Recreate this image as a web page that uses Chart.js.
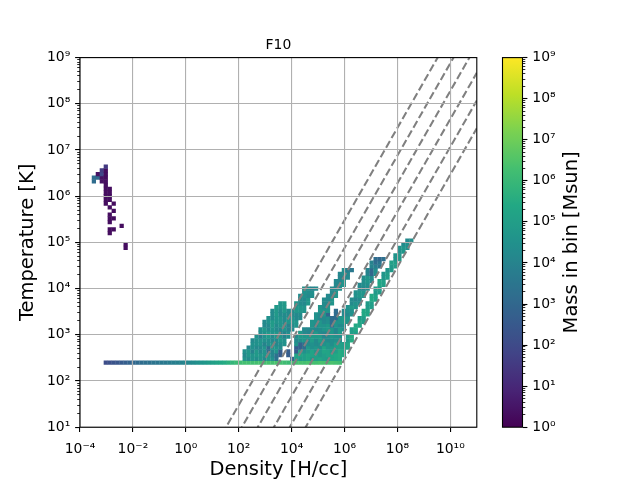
<!DOCTYPE html>
<html><head><meta charset="utf-8">
<script src="https://cdn.jsdelivr.net/npm/chart.js@4.4.1/dist/chart.umd.min.js"></script>
<style>
html,body{margin:0;padding:0;background:#fff;}
#wrap{position:relative;width:640px;height:480px;overflow:hidden;}
canvas{position:absolute;left:0;top:0;}
</style></head><body>
<div id="wrap">
<canvas id="main" width="640" height="480"></canvas>
<canvas id="cbar" width="640" height="480"></canvas>
<canvas id="cblabel" width="640" height="480"></canvas>
</div>
<script>
// ---------------- data (2D histogram, log10 mass per bin) ----------------
const LOGN_MIN = -4, LOGN_STEP = 0.15;   // density bins: log10(n) = -4 .. 11
const LOGT_MIN = 1,  LOGT_STEP = 0.08;   // temperature bins: log10(T) = 1 .. 9
const FLOOR_ROW = 17, FLOOR_START = 6;   // temperature-floor row and its first density bin

// log10(mass) along the temperature floor, density bins 6..65
const floorMass = [2.1,2.2,2.3,2.4,2.55,2.7,2.85,3.0,3.1,3.2,3.3,3.35,3.45,3.5,3.6,3.65,3.75,3.8,3.9,3.95,
  4.05,4.15,4.3,4.45,4.6,4.75,4.9,5.05,5.2,5.35,5.5,5.7,5.9,6.1,
  6.2,6.3,6.3,6.25,6.3,6.35,6.3,6.35,6.3,6.4,6.3,6.2,6.1,6.2,6.3,6.35,6.3,6.4,6.35,6.3,6.4,6.35,6.3,6.4,6.3,6.2];

// [density bin, first T bin, last T bin, log10(mass)] : hot diffuse gas
const hotCells = [
  [3,66,67,3.2],
  [4,67,67,3.0],[4,68,68,0.4],
  [5,66,67,0.4],[5,68,68,1.9],[5,69,69,1.6],
  [6,60,69,0.3],[6,70,70,1.5],
  [7,52,53,0.3],[7,55,57,0.3],[7,59,59,0.3],[7,61,64,0.3],
  [8,53,53,0.3],[8,56,56,0.3],[8,58,58,0.3],[8,60,60,0.3],
  [10,54,54,0.3],
  [11,48,49,0.3]
];

// [density bin, first T bin, last T bin, log10(mass)] : dense cold gas
const coldCells = [
  [41,18,18,4.6],[41,19,19,4.2],[41,20,20,4.5],
  [42,18,18,4.3],[42,19,20,4.7],[42,21,21,4.1],
  [43,18,19,4.6],[43,20,20,4.0],[43,21,22,4.5],[43,23,23,4.2],
  [44,18,18,4.4],[44,19,20,4.8],[44,21,21,4.2],[44,22,24,4.5],
  [45,18,19,4.7],[45,20,21,4.2],[45,22,23,4.6],[45,24,24,3.9],[45,25,26,4.4],
  [46,18,18,4.2],[46,19,21,4.6],[46,22,22,4.0],[46,23,25,4.5],[46,26,26,4.8],[46,27,28,4.2],
  [47,18,19,4.8],[47,20,21,3.2],[47,22,23,4.4],[47,24,25,4.8],[47,26,27,4.2],[47,28,29,4.5],
  [48,18,18,4.5],[48,19,20,4.1],[48,21,22,4.7],[48,23,24,4.2],[48,25,26,4.6],[48,27,28,4.9],[48,29,31,4.3],
  [49,18,19,3.4],[49,20,21,4.6],[49,22,23,4.2],[49,24,25,4.7],[49,26,27,4.3],[49,28,29,4.6],[49,30,32,4.8],
  [50,19,20,2.6],[50,21,22,4.3],[50,23,24,4.7],[50,25,26,4.1],[50,27,29,4.6],[50,30,31,4.3],[50,32,33,4.7],
  [51,22,23,4.5],[51,24,25,4.0],[51,26,27,4.6],[51,28,30,4.3],[51,31,33,4.8],
  [52,19,20,2.6],[52,24,25,4.4],[52,26,27,4.0],[52,28,29,4.6],[52,30,31,4.3],
  [53,18,18,3.0],[53,26,27,4.2],[53,28,29,4.6],[53,30,31,4.3],
  [54,18,19,5.2],[54,20,21,2.6],[54,22,22,4.6],[54,23,24,4.2],[54,27,28,4.6],[54,29,30,4.2],[54,31,33,4.7],
  [55,18,18,4.9],[55,19,20,5.3],[55,21,22,2.8],[55,23,23,4.4],[55,24,25,4.8],[55,29,30,4.3],[55,31,32,4.7],[55,33,35,4.3],
  [56,18,19,5.0],[56,20,20,4.5],[56,21,22,3.3],[56,23,24,4.7],[56,25,26,4.2],[56,31,32,4.6],[56,33,34,4.2],[56,35,37,4.5],
  [57,18,19,5.3],[57,20,21,4.8],[57,22,23,4.3],[57,24,24,4.7],[57,25,26,4.1],[57,33,34,4.7],[57,35,35,4.2],[57,36,37,4.4],
  [58,18,18,4.8],[58,19,20,5.2],[58,21,22,4.5],[58,23,24,4.9],[58,25,26,4.3],[58,27,28,4.6],[58,35,36,4.4],[58,37,37,4.0],
  [59,18,19,5.1],[59,20,21,4.7],[59,22,23,4.3],[59,24,25,4.8],[59,26,27,4.2],[59,28,30,4.5],[59,37,37,4.2],
  [60,18,18,5.3],[60,19,20,4.8],[60,21,22,4.4],[60,23,24,4.9],[60,25,26,4.3],[60,27,28,4.7],[60,29,30,4.2],[60,31,32,4.6],
  [61,18,19,5.0],[61,20,21,5.3],[61,22,23,4.5],[61,24,25,4.1],[61,26,27,4.6],[61,28,29,4.2],[61,30,31,4.7],[61,32,34,4.3],
  [62,18,18,4.9],[62,19,20,5.2],[62,21,22,4.7],[62,23,25,4.3],[62,26,27,4.8],[62,28,29,4.4],[62,30,30,3.0],[62,31,32,4.6],[62,33,35,4.2],
  [63,18,19,5.3],[63,20,21,4.8],[63,22,23,4.4],[63,24,26,4.7],[63,27,29,3.2],[63,33,34,4.6],[63,35,37,4.2],
  [64,18,19,5.4],[64,20,22,5.0],[64,23,24,4.5],[64,25,26,4.1],[64,27,28,4.6],[64,29,31,3.2],[64,35,36,4.6],[64,37,39,4.2],
  [65,18,20,5.5],[65,21,22,5.1],[65,23,24,4.5],[65,25,26,4.8],[65,27,27,4.2],[65,28,29,4.6],[65,37,38,4.5],[65,39,41,4.1],
  [66,19,20,5.4],[66,21,22,5.0],[66,26,27,4.4],[66,28,29,4.8],[66,30,31,4.2],[66,38,39,4.6],[66,40,40,4.1],[66,41,42,4.4],
  [67,21,22,5.3],[67,23,24,4.9],[67,28,29,4.7],[67,30,30,4.2],[67,31,32,4.5],[67,40,41,4.2],[67,42,42,3.8],
  [68,23,24,5.5],[68,25,26,5.0],[68,30,31,4.5],[68,32,32,4.9],[68,33,34,4.3],[68,42,42,3.6],
  [69,25,25,5.0],[69,26,27,5.4],[69,32,33,4.6],[69,34,34,4.1],[69,35,36,4.5],
  [70,27,28,5.3],[70,29,29,4.9],[70,33,34,4.3],[70,35,36,4.7],[70,37,38,4.2],
  [71,28,29,5.0],[71,30,31,5.4],[71,35,36,4.6],[71,37,37,4.1],[71,38,40,4.4],
  [72,30,31,5.3],[72,32,33,4.9],[72,37,38,4.4],[72,39,40,4.7],[72,41,42,4.0],
  [73,32,33,5.0],[73,34,35,5.4],[73,39,40,4.3],[73,41,42,3.0],[73,43,44,4.0],
  [74,34,35,5.2],[74,36,37,4.8],[74,41,42,4.4],[74,43,43,3.8],[74,44,45,3.2],
  [75,36,37,4.9],[75,38,39,5.3],[75,43,44,3.5],[75,45,45,3.0],
  [76,38,39,5.1],[76,40,41,4.7],[76,45,45,3.3],
  [77,40,41,5.0],[77,42,42,4.6],
  [78,42,43,4.8],[78,44,44,5.1],
  [79,43,44,5.0],[79,45,46,4.6],
  [80,45,46,4.8],[80,47,48,4.5],
  [81,47,48,4.7],[81,49,49,4.3],
  [82,48,49,4.5],[82,50,50,4.2],
  [83,50,50,4.4]
];

// dashed reference lines: log10(T) = log10(n) + offset
const lineOffsets = [-0.52, -1.12, -1.72, -2.33, -2.93, -3.53];

const xTickPowers = [-4,-2,0,2,4,6,8,10];
const yTickPowers = [1,2,3,4,5,6,7,8,9];
const cbTickPowers = [0,1,2,3,4,5,6,7,8,9];
const X_MIN = 1e-4, X_MAX = 1e11, Y_MIN = 1e1, Y_MAX = 1e9, CB_MIN = 1, CB_MAX = 1e9;

// ---------------- styling helpers ----------------
const VIRIDIS = ['#440154','#482475','#414487','#355f8d','#2a788e','#21918c','#22a884','#44bf70','#7ad151','#bddf26','#fde725'];
function hex2rgb(h){return [parseInt(h.substr(1,2),16),parseInt(h.substr(3,2),16),parseInt(h.substr(5,2),16)];}
function viridis(t){
  t = Math.max(0, Math.min(1, t));
  const p = t * (VIRIDIS.length - 1), k = Math.min(Math.floor(p), VIRIDIS.length - 2), f = p - k;
  const a = hex2rgb(VIRIDIS[k]), b = hex2rgb(VIRIDIS[k+1]);
  return 'rgb(' + a.map((v, q) => Math.round(v + (b[q] - v) * f)).join(',') + ')';
}
const SUP = {'0':'⁰','1':'¹','2':'²','3':'³','4':'⁴','5':'⁵','6':'⁶','7':'⁷','8':'⁸','9':'⁹','-':'⁻'};
function powLabel(v){ const p = Math.round(Math.log10(v)); return '10' + String(p).split('').map(c => SUP[c]).join(''); }
function minorTicks(lo, hi){ const t = []; for (let p = lo; p < hi; p++) for (let m = 2; m <= 9; m++) t.push({value: m * Math.pow(10, p)}); return t; }

// ---------------- build cell points ----------------
const cellPts = [], cellCols = [];
function addCell(i, j, v){
  cellPts.push({x: Math.pow(10, LOGN_MIN + (i + 0.5) * LOGN_STEP), y: Math.pow(10, LOGT_MIN + (j + 0.5) * LOGT_STEP)});
  cellCols.push(viridis(v / 9));
}
floorMass.forEach((v, k) => addCell(FLOOR_START + k, FLOOR_ROW, v));
[hotCells, coldCells].forEach(list => list.forEach(([i, j0, j1, v]) => { for (let j = j0; j <= j1; j++) addCell(i, j, v); }));

Chart.defaults.font.family = 'DejaVu Sans';
Chart.defaults.color = '#000';

const TICK_FONT = {family: 'DejaVu Sans', size: 13.9};
const LABEL_FONT = {family: 'DejaVu Sans', size: 19.44, lineHeight: 1};

const framePlugin = {
  id: 'frame',
  afterDraw(chart){
    const a = chart.chartArea, c = chart.ctx;
    c.save(); c.strokeStyle = '#000'; c.lineWidth = 1.1;
    c.strokeRect(a.left, a.top, a.right - a.left, a.bottom - a.top);
    c.restore();
  }
};

const lineSets = lineOffsets.map(c => ({
  type: 'line',
  data: [{x: X_MIN, y: Math.pow(10, Math.log10(X_MIN) + c)}, {x: X_MAX, y: Math.pow(10, Math.log10(X_MAX) + c)}],
  borderColor: '#808080', borderWidth: 2.08, borderDash: [7.7, 3.3],
  pointRadius: 0, fill: false, tension: 0, clip: 0, order: 1
}));

new Chart(document.getElementById('main'), {
  type: 'scatter',
  data: {datasets: [
    ...lineSets,
    {data: cellPts, backgroundColor: cellCols, pointStyle: 'rect', pointRadius: 3.0,
     pointBorderWidth: 0, borderWidth: 0, order: 2, clip: 0}
  ]},
  options: {
    responsive: false, animation: false, events: [],
    layout: {padding: {left: 0, right: 163.2, top: 0, bottom: 0}},
    plugins: {
      legend: {display: false}, tooltip: {enabled: false},
      title: {display: true, text: 'F10', fullSize: false, color: '#000',
              font: {family: 'DejaVu Sans', size: 13.9, weight: 'normal', lineHeight: 1},
              padding: {top: 38.25, bottom: 5.45}}
    },
    scales: {
      x: {
        type: 'logarithmic', position: 'bottom', min: X_MIN, max: X_MAX,
        afterBuildTicks: s => { s.ticks = xTickPowers.map(p => ({value: Math.pow(10, p)})); },
        afterFit: s => { s.height = 52.8; },
        ticks: {autoSkip: false, maxRotation: 0, minRotation: 0, padding: 9, font: TICK_FONT, color: '#000', callback: v => powLabel(v)},
        grid: {color: '#b0b0b0', lineWidth: 1.1, z: 1, drawTicks: true, tickLength: 4.9, tickColor: '#000', tickWidth: 1.1},
        border: {display: false},
        title: {display: true, text: 'Density [H/cc]', color: '#000', font: LABEL_FONT, padding: {top: 0, bottom: 0}}
      },
      y: {
        type: 'logarithmic', position: 'left', weight: 1, min: Y_MIN, max: Y_MAX,
        afterBuildTicks: s => { s.ticks = yTickPowers.map(p => ({value: Math.pow(10, p)})); },
        afterFit: s => { s.width = 80; },
        ticks: {autoSkip: false, padding: 4.9, font: TICK_FONT, color: '#000', callback: v => powLabel(v)},
        grid: {color: '#b0b0b0', lineWidth: 1.1, z: 1, drawTicks: true, tickLength: 4.9, tickColor: '#000', tickWidth: 1.1},
        border: {display: false},
        title: {display: true, text: 'Temperature [K]', color: '#000', font: LABEL_FONT, padding: {top: 18, bottom: 0}}
      },
      yMinor: {
        type: 'logarithmic', position: 'left', weight: 0, min: Y_MIN, max: Y_MAX, display: true,
        afterBuildTicks: s => { s.ticks = minorTicks(yTickPowers[0], yTickPowers[yTickPowers.length - 1]); },
        afterFit: s => { s.width = 0; },
        ticks: {display: false, autoSkip: false},
        grid: {drawOnChartArea: false, drawTicks: true, tickLength: 2.8, tickColor: '#000', tickWidth: 0.83, z: 1},
        border: {display: false}
      }
    }
  },
  plugins: [framePlugin]
});

// ---------------- colour bar ----------------
function barGradient(ctx){
  const ch = ctx.chart, a = ch.chartArea;
  if (!a) return '#21918c';
  const g = ch.ctx.createLinearGradient(0, a.bottom, 0, a.top);
  for (let k = 0; k <= 40; k++) g.addColorStop(k / 40, viridis(k / 40));
  return g;
}
new Chart(document.getElementById('cbar'), {
  type: 'bar',
  data: {labels: [''], datasets: [{data: [[CB_MIN, CB_MAX]], yAxisID: 'cb', backgroundColor: barGradient,
          borderWidth: 0, barPercentage: 1, categoryPercentage: 1, borderSkipped: false}]},
  options: {
    responsive: false, animation: false, events: [],
    layout: {padding: {left: 502.5, right: 0, top: 57.6, bottom: 52.8}},
    plugins: {legend: {display: false}, tooltip: {enabled: false}},
    scales: {
      x: {display: false},
      cb: {
        type: 'logarithmic', position: 'right', weight: 1, min: CB_MIN, max: CB_MAX,
        afterBuildTicks: s => { s.ticks = cbTickPowers.map(p => ({value: Math.pow(10, p)})); },
        afterFit: s => { s.width = 640 - 522.5; },
        ticks: {autoSkip: false, padding: 4.9, font: TICK_FONT, color: '#000', callback: v => powLabel(v)},
        grid: {drawOnChartArea: false, drawTicks: true, tickLength: 4.9, tickColor: '#000', tickWidth: 1.1},
        border: {display: false}
      },
      cbMinor: {
        type: 'logarithmic', position: 'right', weight: 0, min: CB_MIN, max: CB_MAX, display: true,
        afterBuildTicks: s => { s.ticks = minorTicks(cbTickPowers[0], cbTickPowers[cbTickPowers.length - 1]); },
        afterFit: s => { s.width = 0; },
        ticks: {display: false, autoSkip: false},
        grid: {drawOnChartArea: false, drawTicks: true, tickLength: 2.8, tickColor: '#000', tickWidth: 0.83},
        border: {display: false}
      }
    }
  },
  plugins: [framePlugin]
});

// ---------------- colour bar label ----------------
new Chart(document.getElementById('cblabel'), {
  type: 'scatter',
  data: {datasets: []},
  options: {
    responsive: false, animation: false, events: [],
    layout: {padding: {left: 552, right: 0, top: 57.6, bottom: 52.8}},
    plugins: {legend: {display: false}, tooltip: {enabled: false}},
    scales: {
      x: {display: false},
      y: {display: true, position: 'left', ticks: {display: false}, grid: {display: false, drawTicks: false},
          border: {display: false},
          title: {display: true, text: 'Mass in bin [Msun]', color: '#000', font: LABEL_FONT, padding: {top: 10.2, bottom: 0}}}
    }
  }
});
</script>
</body></html>
